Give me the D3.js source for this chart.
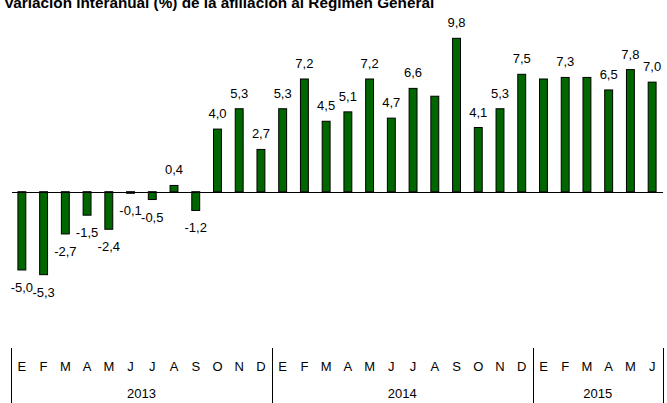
<!DOCTYPE html>
<html>
<head>
<meta charset="utf-8">
<script src="https://cdn.jsdelivr.net/npm/d3@7"></script>
<style>
  body { margin: 0; background: #fff; }
  svg { display: block; font-family: "Liberation Sans", Arial, sans-serif; }
</style>
</head>
<body>
<script>
const width = 667;
const height = 403;

const title = "Variación interanual (%) de la afiliación al Régimen General";

// one value per month, Jan 2013 .. Jun 2015
const values = [
  -5.0, -5.3, -2.7, -1.5, -2.4, -0.1, -0.5, 0.4, -1.2, 4.0, 5.3, 2.7,
  5.3, 7.2, 4.5, 5.1, 7.2, 4.7, 6.6, 6.1, 9.8, 4.1, 5.3, 7.5,
  7.2, 7.3, 7.3, 6.5, 7.8, 7.0
];
// printed labels ("" where the chart shows none)
const valueLabels = [
  "-5,0", "-5,3", "-2,7", "-1,5", "-2,4", "-0,1", "-0,5", "0,4", "-1,2", "4,0", "5,3", "2,7",
  "5,3", "7,2", "4,5", "5,1", "7,2", "4,7", "6,6", "", "9,8", "4,1", "5,3", "7,5",
  "", "7,3", "", "6,5", "7,8", "7,0"
];
const months = ["E","F","M","A","M","J","J","A","S","O","N","D",
                "E","F","M","A","M","J","J","A","S","O","N","D",
                "E","F","M","A","M","J"];
const years = ["2013", "2014", "2015"];
const yearStart = [0, 12, 24, 30];

const x = d3.scaleBand()
    .domain(d3.range(values.length))
    .range([11, 663])
    .paddingInner(0.59)
    .paddingOuter(0.295);

const y = d3.scaleLinear()
    .domain([0, 9.8])
    .range([191.7, 38.3]);

const svg = d3.select("body").append("svg")
    .attr("width", width)
    .attr("height", height);

// title sits partly above the top edge, as in the original
svg.append("text")
    .attr("x", 4)
    .attr("y", 8)
    .attr("font-size", 15.3)
    .attr("font-weight", "bold")
    .text(title);

// bars
svg.append("g")
  .selectAll("rect")
  .data(values)
  .join("rect")
    .attr("x", (d, i) => x(i) + 0.5)
    .attr("y", d => Math.min(y(d), y(0)))
    .attr("width", x.bandwidth() - 1)
    .attr("height", d => Math.abs(y(d) - y(0)))
    .attr("fill", "#006600")
    .attr("stroke", "#000")
    .attr("stroke-width", 1);

// zero line
svg.append("line")
    .attr("x1", 12)
    .attr("x2", 663)
    .attr("y1", Math.round(y(0)) + 0.5)
    .attr("y2", Math.round(y(0)) + 0.5)
    .attr("stroke", "#000")
    .attr("stroke-width", 1.2);

// value labels
svg.append("g")
    .attr("font-size", 13)
    .attr("text-anchor", "middle")
  .selectAll("text")
  .data(values)
  .join("text")
    .attr("x", (d, i) => x(i) + x.bandwidth() / 2)
    .attr("y", d => d >= 0 ? y(d) - 11 : y(d) + 22)
    .text((d, i) => valueLabels[i]);

// month axis
const axis = svg.append("g").attr("font-size", 13).attr("text-anchor", "middle");
axis.selectAll("text.month")
  .data(months)
  .join("text")
    .attr("class", "month")
    .attr("x", (d, i) => x(i) + x.bandwidth() / 2)
    .attr("y", 371)
    .text(d => d);

const edge = i => i >= values.length ? 663 : x(i) - (x.step() - x.bandwidth()) / 2;

axis.selectAll("line")
  .data(yearStart)
  .join("line")
    .attr("x1", d => Math.round(edge(d)) + 0.5)
    .attr("x2", d => Math.round(edge(d)) + 0.5)
    .attr("y1", 348)
    .attr("y2", height)
    .attr("stroke", "#000");

axis.selectAll("text.year")
  .data(years)
  .join("text")
    .attr("class", "year")
    .attr("x", (d, i) => (edge(yearStart[i]) + edge(yearStart[i + 1])) / 2)
    .attr("y", 398)
    .text(d => d);
</script>
</body>
</html>
